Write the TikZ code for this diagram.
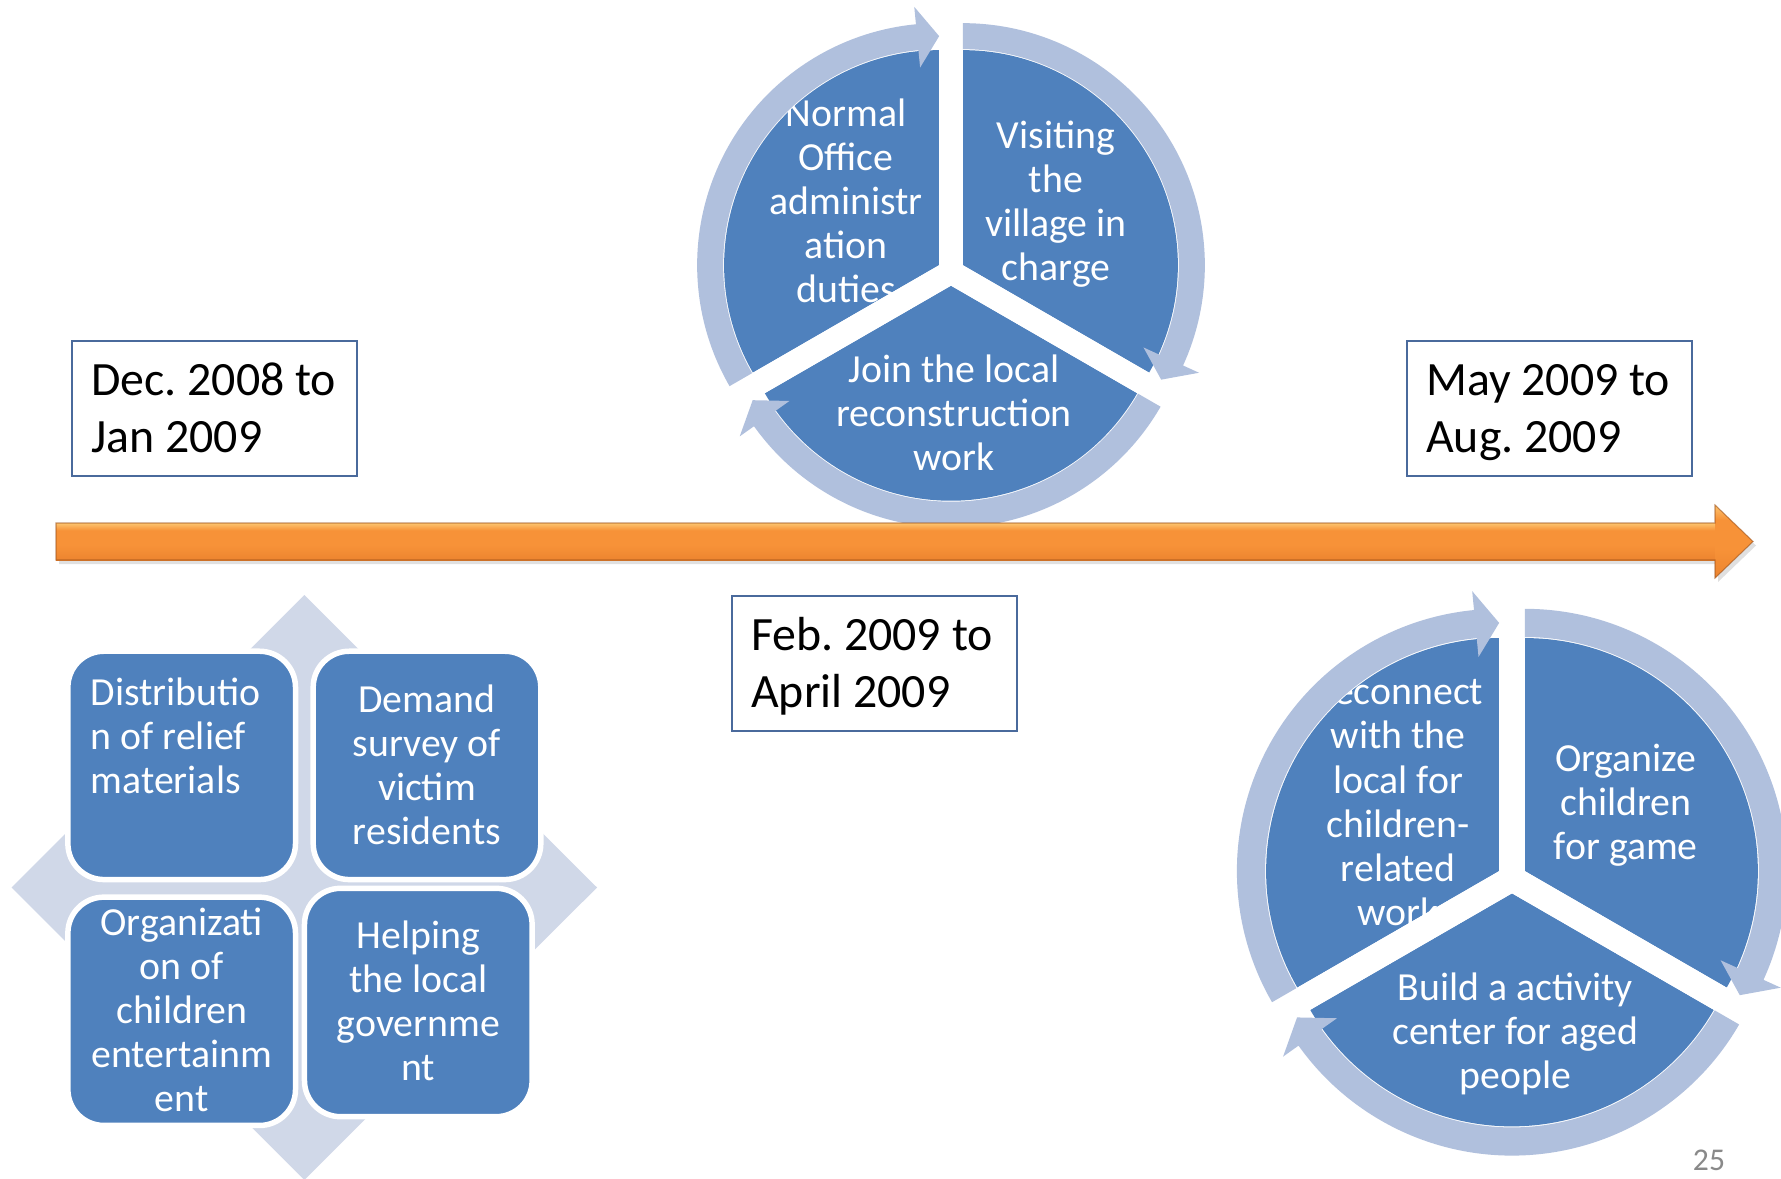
\documentclass[tikz,border=0pt]{standalone}
\usepackage{fontspec}
\setmainfont{Carlito}
\definecolor{segblue}{RGB}{79,129,189}
\definecolor{bandblue}{RGB}{176,192,221}
\definecolor{diamondblue}{RGB}{208,216,232}
\definecolor{boxline}{RGB}{74,106,156}
\definecolor{pagegray}{RGB}{137,137,137}
\definecolor{obot}{RGB}{196,100,32}
\definecolor{olow}{RGB}{230,124,42}
\definecolor{omid}{RGB}{247,146,56}
\definecolor{ohi}{RGB}{255,212,128}
\definecolor{otop}{RGB}{240,150,70}
\pgfdeclareverticalshading{orangebar}{100bp}{color(0bp)=(obot); color(12bp)=(olow); color(45bp)=(omid); color(65bp)=(omid); color(78bp)=(ohi); color(90bp)=(ohi); color(100bp)=(otop)}
\tikzset{
  smart/.style={font=\fontsize{11.32pt}{12.52pt}\selectfont, text=white, align=center, inner sep=0pt},
  datebox/.style={draw=boxline, line width=0.6pt, fill=white, minimum width=2.85cm, minimum height=1.353cm, inner sep=0pt},
  datetext/.style={font=\fontsize{13.6pt}{16.13pt}\selectfont\frenchspacing, align=left, inner sep=0pt, anchor=west},
  quad/.style={fill=segblue, draw=white, line width=1.56pt, rounded corners=0.36cm, minimum width=2.275cm,
    minimum height=2.282cm, inner sep=0pt},
  sector/.style={fill=segblue},
  band/.style={fill=bandblue},
}
\def\cycled{13.7}
\def\cycler{215}
% #1 center, #2 scale, #3 gap width, #4 prefix, #5 left text, #6 right text, #7 bottom text
\newcommand\segcycle[7]{%
\begin{scope}[shift={#1}, scale=#2, yscale=-1]
  \foreach \t in {150,30,270} {
    \fill[sector] (\t:\cycled) -- ++(\t+60:\cycler) arc[start angle=\t+60, end angle=\t-60, radius=\cycler] -- cycle;
  }
  \node[smart] (#4L) at (-105,66.7) {#5};
  \node[smart] (#4R) at (105,66.7) {#6};
  \node[smart] (#4B) at (3,-145.3) {#7};
  \foreach \t in {90,210,330} {
    \draw[white, line width=#3] (0,0) -- (\t:229);
  }
  \foreach \t in {150,30,270} {
    \begin{scope}[shift={(\t:\cycled)}]
      \fill[band] (\t+60:242) arc[start angle=\t+60, end angle=\t-54.5, radius=242]
        -- (\t-54.5:259.5) -- (\t-60:229) -- (\t-54.5:198.5) -- (\t-54.5:216)
        arc[start angle=\t-54.5, end angle=\t+60, radius=216] -- cycle;
    \end{scope}
  }
\end{scope}}
\begin{document}
\begin{tikzpicture}[x=0.01cm, y=-0.01cm]
\useasboundingbox (0,0) rectangle (1781,1179);
\fill[white] (0,0) rectangle (1781,1179);

% top cycle
\segcycle{(951,272)}{1}{0.237cm}{ca}
  {\strut Normal\\\strut Office\\\strut administr\\\strut ation\\\strut duties}
  {\strut Visiting\\\strut the\\\strut village in\\\strut charge}
  {\strut Join the local\\\strut reconstruction\\\strut work}

% lower right cycle
\segcycle{(1512,878.5)}{1.0837}{0.257cm}{cb}
  {\strut Reconnect\\\strut with the\\\strut local for\\\strut children-\\\strut related\\\strut work}
  {\strut Organize\\\strut children\\\strut for game}
  {\strut Build a activity\\\strut center for aged\\\strut people}

% timeline arrow
\fill[black, opacity=0.12] (59,527) -- (1718,527) -- (1718,509) -- (1756,545.5) -- (1718,582) -- (1718,564) -- (59,564) -- cycle;
\shade[shading=orangebar] (56,523) rectangle (1716,560);
\shade[shading=orangebar] (1715,505) -- (1753,541.5) -- (1715,578) -- cycle;
\draw[obot!80!black, line width=0.3pt, opacity=0.6] (56,523) -- (1715,523) -- (1715,505) -- (1753,541.5) -- (1715,578) -- (1715,560) -- (56,560) -- cycle;

% date boxes
\node[datebox] (dec) at (214.2,408.4) {};
\node[datetext] (dect) at (90.5,412.7) {\strut Dec. 2008 to\\\strut Jan 2009};
\node[datebox] (feb) at (874.7,663.4) {};
\node[datetext] (febt) at (750.5,667.7) {\strut Feb. 2009 to\\\strut April 2009};
\node[datebox] (may) at (1549.7,408.7) {};
\node[datetext] (mayt) at (1425.5,412.7) {\strut May 2009 to\\\strut Aug. 2009};

% matrix
\fill[diamondblue] (304.3,595) -- (597,887.5) -- (304.3,1180) -- (11.7,887.5) -- cycle;
\node[quad] (qtl) at (181.7,765.4) {};
\node[quad] (qtr) at (427,765.4) {};
\node[quad] (qbl) at (181.7,1011.3) {};
\node[quad] (qbr) at (418.3,1002.5) {};
\node[smart, align=left, anchor=west] (ttl) at (90,740.6) {\strut Distributio\\\strut n of relief\\\strut materials};
\node[smart] (ttr) at (427,769.9) {\strut Demand\\\strut survey of\\\strut victim\\\strut residents};
\node[smart] (tbl) at (181.7,1014.7) {\strut Organizati\\\strut on of\\\strut children\\\strut entertainm\\\strut ent};
\node[smart] (tbr) at (418.3,1005.9) {\strut Helping\\\strut the local\\\strut governme\\\strut nt};

% page number
\node[font=\fontsize{9pt}{10pt}\selectfont, text=pagegray, inner sep=0pt] (pg) at (1709,1160) {25};
\end{tikzpicture}
\end{document}
